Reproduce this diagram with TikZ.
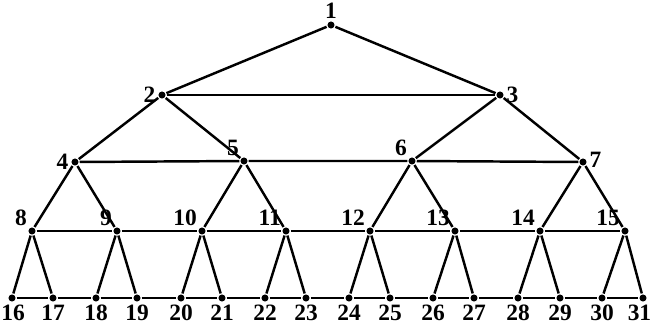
\documentclass[tikz,border=0pt]{standalone}
\usepackage{fontspec}
\setmainfont{Liberation Serif}
\usetikzlibrary{positioning}

\begin{document}
\begin{tikzpicture}[x=0.03cm, y=-0.03cm, line width=2.1pt,
    vdot/.style={circle, fill, inner sep=0pt, minimum size=6pt},
    every label/.style={font=\fontsize{20}{22}\selectfont\bfseries, inner sep=0.5pt}]
    \useasboundingbox (0,0) rectangle (651,328);

    % root and upper levels
    \node [vdot, label=above:1] (v1) at (331,25) {};
    \node [vdot, label=left:2] (v2) at (162,95) {};
    \node [vdot, label=right:3] (v3) at (500,95) {};
    \node [vdot, label=left:4] (v4) at (75,162) {};
    \node [vdot, label=above left:5] (v5) at (244,161) {};
    \node [vdot, label=above left:6] (v6) at (412,161) {};
    \node [vdot, label={[yshift=2pt]right:7}] (v7) at (583,162) {};

    % third level
    \node [vdot, label=above left:8] (v8) at (32,231) {};
    \node [vdot, label=above left:9] (v9) at (117,231) {};
    \node [vdot, label=above left:10] (v10) at (202,231) {};
    \node [vdot, label=above left:11] (v11) at (286,231) {};
    \node [vdot, label=above left:12] (v12) at (370,231) {};
    \node [vdot, label=above left:13] (v13) at (455,231) {};
    \node [vdot, label=above left:14] (v14) at (540,231) {};
    \node [vdot, label=above left:15] (v15) at (625,231) {};

    % leaves
    \node [vdot, label={[xshift=1pt]below:16}] (v16) at (12,298) {};
    \node [vdot, label=below:17] (v17) at (53,298) {};
    \node [vdot, label=below:18] (v18) at (96,298) {};
    \node [vdot, label=below:19] (v19) at (137,298) {};
    \node [vdot, label=below:20] (v20) at (181,298) {};
    \node [vdot, label=below:21] (v21) at (222,298) {};
    \node [vdot, label=below:22] (v22) at (265,298) {};
    \node [vdot, label=below:23] (v23) at (306,298) {};
    \node [vdot, label=below:24] (v24) at (349,298) {};
    \node [vdot, label=below:25] (v25) at (390,298) {};
    \node [vdot, label=below:26] (v26) at (433,298) {};
    \node [vdot, label=below:27] (v27) at (474,298) {};
    \node [vdot, label=below:28] (v28) at (518,298) {};
    \node [vdot, label=below:29] (v29) at (560,298) {};
    \node [vdot, label=below:30] (v30) at (602,298) {};
    \node [vdot, label={[xshift=-3pt]below:31}] (v31) at (643,298) {};

    % tree edges
    \draw (v2) -- (v1) -- (v3);
    \draw (v4) -- (v2) -- (v5);
    \draw (v6) -- (v3) -- (v7);
    \draw (v8) -- (v4) -- (v9);
    \draw (v10) -- (v5) -- (v11);
    \draw (v12) -- (v6) -- (v13);
    \draw (v14) -- (v7) -- (v15);
    \draw (v16) -- (v8) -- (v17);
    \draw (v18) -- (v9) -- (v19);
    \draw (v20) -- (v10) -- (v21);
    \draw (v22) -- (v11) -- (v23);
    \draw (v24) -- (v12) -- (v25);
    \draw (v26) -- (v13) -- (v27);
    \draw (v28) -- (v14) -- (v29);
    \draw (v30) -- (v15) -- (v31);

    % level rungs
    \draw (v2) -- (v3);
    \draw (v4) -- (v5) -- (v6) -- (v7);
    \draw (v8) -- (v9) -- (v10) -- (v11) -- (v12) -- (v13) -- (v14) -- (v15);
    \draw (v16) -- (v17) -- (v18) -- (v19) -- (v20) -- (v21) -- (v22) -- (v23)
        -- (v24) -- (v25) -- (v26) -- (v27) -- (v28) -- (v29) -- (v30) -- (v31);

\end{tikzpicture}
\end{document}
